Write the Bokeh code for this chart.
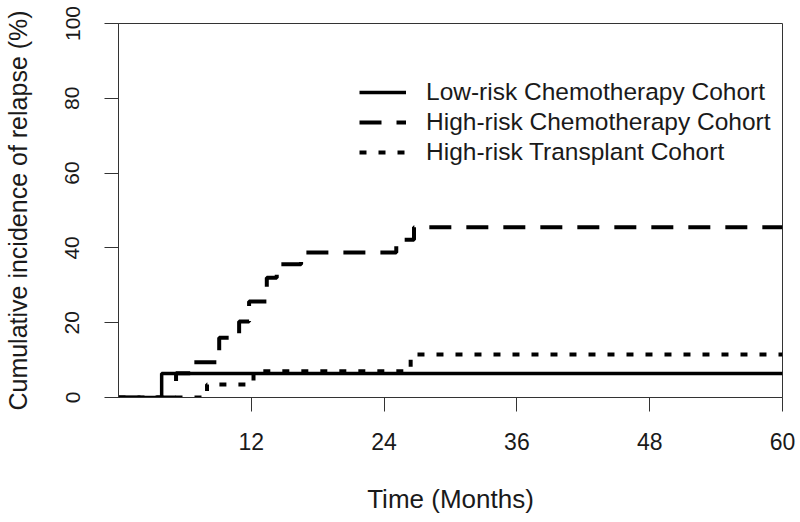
from bokeh.plotting import figure
from bokeh.models import Range1d, FixedTicker, Legend, LegendItem, ColumnDataSource
from bokeh.embed import file_html
from bokeh.resources import INLINE

# ---- data ----
series_names = ["Low-risk Chemotherapy Cohort",
                "High-risk Chemotherapy Cohort",
                "High-risk Transplant Cohort"]

low_time = [0, 3.9, 60]
low_cif = [0, 6.4, 6.4]

hichemo_time = [0, 5.2, 6.6, 9.1, 10.9, 11.8, 13.4, 14.3, 16.5, 25.1, 26.7, 60]
hichemo_cif = [0, 6.5, 9.4, 16.0, 20.3, 25.7, 32.0, 35.6, 38.8, 42.2, 45.5, 45.5]

transplant_time = [0, 8.0, 12.2, 26.4, 60]
transplant_cif = [0, 3.5, 7.0, 11.5, 11.5]

x_ticks = [12, 24, 36, 48, 60]
y_ticks = [0, 20, 40, 60, 80, 100]

FONT = "Liberation Sans"
TXT = "#1a1a1a"

p = figure(width=798, height=520, output_backend="svg", toolbar_location=None,
           x_range=Range1d(0, 60), y_range=Range1d(0, 100),
           min_border_left=117, min_border_right=16, min_border_top=23,
           min_border_bottom=123)
p.background_fill_color = "white"
p.border_fill_color = "white"
p.outline_line_color = "#333333"
p.outline_line_width = 1
p.xgrid.visible = False
p.ygrid.visible = False

# axes
for ax in (p.xaxis[0], p.yaxis[0]):
    ax.axis_line_color = "#333333"
    ax.axis_line_width = 1
    ax.major_tick_line_color = "#333333"
    ax.major_tick_line_width = 1
    ax.major_tick_in = 0
    ax.major_tick_out = 14
    ax.minor_tick_line_color = None
    ax.major_label_text_font = FONT
    ax.major_label_text_color = TXT
    ax.axis_label_text_font = FONT
    ax.axis_label_text_color = TXT
    ax.axis_label_text_font_style = "normal"

p.xaxis.ticker = FixedTicker(ticks=x_ticks)
p.xaxis.major_label_text_font_size = "23px"
p.xaxis.major_label_standoff = 21
p.xaxis.axis_label = "Time (Months)"
p.xaxis.axis_label_text_font_size = "26px"
p.xaxis.axis_label_standoff = 31

p.yaxis.ticker = FixedTicker(ticks=y_ticks)
p.yaxis.major_label_orientation = "vertical"
p.yaxis.major_label_text_font_size = "21px"
p.yaxis.major_label_standoff = 25
p.yaxis.axis_label = "Cumulative incidence of relapse (%)"
p.yaxis.axis_label_text_font_size = "25px"
p.yaxis.axis_label_standoff = 31

# curves
src_low = ColumnDataSource(dict(t=low_time, c=low_cif))
src_hc = ColumnDataSource(dict(t=hichemo_time, c=hichemo_cif))
src_tr = ColumnDataSource(dict(t=transplant_time, c=transplant_cif))

r_low = p.step("t", "c", source=src_low, mode="after", line_color="black",
               line_width=3.5, line_cap="butt")
r_hc = p.step("t", "c", source=src_hc, mode="after", line_color="black",
              line_width=4, line_dash="22 15", line_cap="butt")
r_tr = p.step("t", "c", source=src_tr, mode="after", line_color="black",
              line_width=4, line_dash="7 12", line_cap="butt")

legend = Legend(items=[LegendItem(label=series_names[0], renderers=[r_low]),
                       LegendItem(label=series_names[1], renderers=[r_hc]),
                       LegendItem(label=series_names[2], renderers=[r_tr])],
                location=(241, 230), padding=0, spacing=0, margin=0,
                glyph_width=47, glyph_height=30, label_height=30,
                label_standoff=20, label_text_font=FONT,
                label_text_font_size="24.5px", label_text_color=TXT,
                background_fill_alpha=0, border_line_alpha=0)
p.add_layout(legend, "center")

open("out.html", "w").write(file_html(p, INLINE))
